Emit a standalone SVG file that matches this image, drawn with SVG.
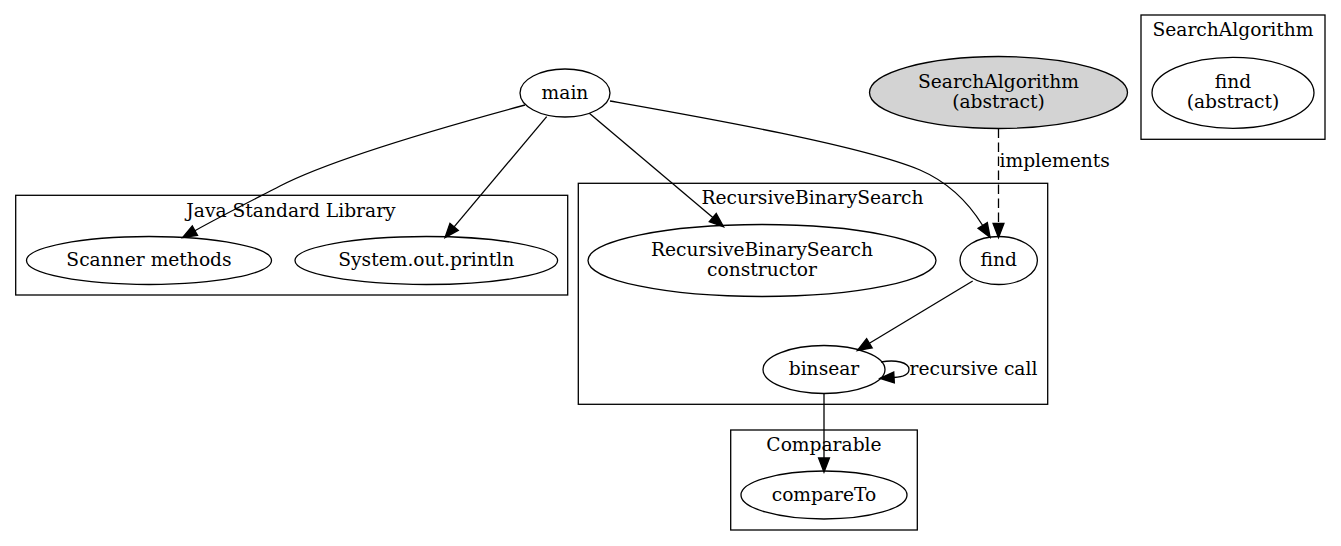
<svg xmlns="http://www.w3.org/2000/svg" width="1341" height="546" viewBox="0 0 1341 546">
<style>
  text { font-family: "DejaVu Serif", "Liberation Serif", serif; font-size: 18.67px; fill: #000; text-anchor: middle; }
  .cluster { fill: none; stroke: #000; stroke-width: 1.3; }
  .node { fill: none; stroke: #000; stroke-width: 1.3; }
  .gray { fill: #d3d3d3; }
  .edge { fill: none; stroke: #000; stroke-width: 1.3; }
  .dashed { stroke-dasharray: 9.5,4.5; }
</style>
<defs>
  <marker id="arrow" markerUnits="userSpaceOnUse" markerWidth="14" markerHeight="11" viewBox="0 0 13 10" refX="0" refY="5" orient="auto" overflow="visible">
    <path d="M0,0 L13,5 L0,10 Z" fill="#000" stroke="#000" stroke-width="1.3"/>
  </marker>
</defs>
<rect width="1341" height="546" fill="#fff"/>

<g id="cluster_java">
  <rect class="cluster" x="15.7" y="195.3" width="552" height="99.7"/>
  <text x="291" y="216.5">Java Standard Library</text>
</g>
<g id="cluster_rbs">
  <rect class="cluster" x="578.3" y="183.3" width="469.4" height="221"/>
  <text x="812.5" y="204">RecursiveBinarySearch</text>
</g>
<g id="cluster_comparable">
  <rect class="cluster" x="730.7" y="430" width="186.6" height="100"/>
  <text x="824" y="450.5">Comparable</text>
</g>
<g id="cluster_searchalgorithm">
  <rect class="cluster" x="1141" y="15" width="184" height="124.3"/>
  <text x="1233" y="36">SearchAlgorithm</text>
</g>

<g id="connectors">
  <path class="edge" d="M525,105 C440,128 330,160 280,186 C255,199 225,214 194.9,230.7" marker-end="url(#arrow)"/>
  <path class="edge" d="M546.7,116.7 L454.1,226.8" marker-end="url(#arrow)"/>
  <path class="edge" d="M589.3,113.3 L712.8,217.6" marker-end="url(#arrow)"/>
  <path class="edge" d="M610,101 C700,117 860,145 920,170 C950,183 970,205 982.7,225.5" marker-end="url(#arrow)"/>
  <path class="edge dashed" d="M998.5,128.5 L998.5,223.5" marker-end="url(#arrow)"/>
  <text x="999.5" y="167" style="text-anchor:start">implements</text>
  <path class="edge" d="M972.7,281 L869.4,343.3" marker-end="url(#arrow)"/>
  <path class="edge" d="M881,362 C895,359.5 909,362 909,369.5 C909,374.5 903,377 894,377.5" marker-end="url(#arrow)"/>
  <text x="909.5" y="374.5" style="text-anchor:start">recursive call</text>
  <path class="edge" d="M824,393.5 L824,458" marker-end="url(#arrow)"/>
</g>

<g id="node_main">
  <ellipse class="node" cx="565" cy="93" rx="45" ry="24"/>
  <text x="565" y="98.5">main</text>
</g>
<g id="node_searchalgorithm">
  <ellipse class="node gray" cx="998.5" cy="92.5" rx="129" ry="36"/>
  <text x="998.5" y="87.5">SearchAlgorithm</text>
  <text x="998.5" y="107.5">(abstract)</text>
</g>
<g id="node_scanner">
  <ellipse class="node" cx="149" cy="260.5" rx="122.5" ry="24"/>
  <text x="149" y="266">Scanner methods</text>
</g>
<g id="node_println">
  <ellipse class="node" cx="426.3" cy="260.5" rx="131.3" ry="24"/>
  <text x="426.3" y="266">System.out.println</text>
</g>
<g id="node_constructor">
  <ellipse class="node" cx="762" cy="260.5" rx="174" ry="36"/>
  <text x="762" y="256">RecursiveBinarySearch</text>
  <text x="762" y="276">constructor</text>
</g>
<g id="node_find">
  <ellipse class="node" cx="998.7" cy="260.5" rx="38.7" ry="24"/>
  <text x="998.7" y="266">find</text>
</g>
<g id="node_binsear">
  <ellipse class="node" cx="824" cy="369.5" rx="61" ry="24"/>
  <text x="824" y="375">binsear</text>
</g>
<g id="node_compareto">
  <ellipse class="node" cx="824" cy="495" rx="83" ry="24"/>
  <text x="824" y="500.5">compareTo</text>
</g>
<g id="node_find_abstract">
  <ellipse class="node" cx="1233" cy="92.8" rx="81" ry="35.5"/>
  <text x="1233" y="88">find</text>
  <text x="1233" y="108">(abstract)</text>
</g>
</svg>
